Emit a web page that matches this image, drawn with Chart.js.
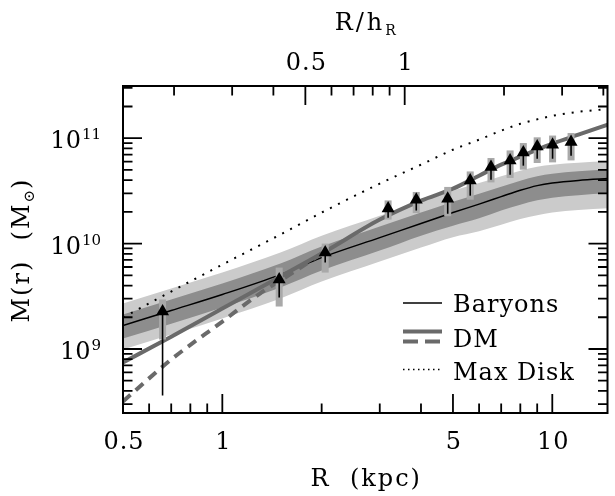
<!DOCTYPE html>
<html><head><meta charset="utf-8">
<script src="https://cdn.jsdelivr.net/npm/chart.js@4.4.1/dist/chart.umd.min.js"></script>
<style>html,body{margin:0;padding:0;background:#fff;}canvas{display:block;}</style>
</head><body>
<canvas id="c" width="615" height="496"></canvas>
<script>
// ---- axis ranges ----
const X_MIN = 0.5, X_MAX = 14.7;
const Y_MIN = 2.47e8, Y_MAX = 3.13e11;
const H_R = 3.57; // kpc, disk scale length (top axis R/h_R)

// ---- model curves (R in kpc, M in Msun) ----
const curveR     = [0.5, 0.7, 1, 1.5, 2, 3, 4, 5, 6, 7, 8, 9, 10, 12, 15];
const baryons    = [1.67e9, 2.32e9, 3.29e9, 5.08e9, 7.37e9, 1.14e10, 1.55e10, 1.97e10, 2.37e10, 2.79e10, 3.21e10, 3.55e10, 3.76e10, 3.98e10, 4.15e10];
const baryonsHi2 = [2.70e9, 3.75e9, 5.31e9, 8.22e9, 1.19e10, 1.84e10, 2.50e10, 3.18e10, 3.75e10, 4.36e10, 4.92e10, 5.37e10, 5.61e10, 5.86e10, 6.05e10];
const baryonsHi1 = [2.12e9, 2.95e9, 4.18e9, 6.46e9, 9.37e9, 1.45e10, 1.97e10, 2.50e10, 2.98e10, 3.47e10, 3.95e10, 4.36e10, 4.61e10, 4.87e10, 5.06e10];
const baryonsLo1 = [1.26e9, 1.74e9, 2.47e9, 3.83e9, 5.55e9, 8.59e9, 1.19e10, 1.48e10, 1.74e10, 2.06e10, 2.34e10, 2.58e10, 2.73e10, 2.88e10, 3.01e10];
const baryonsLo2 = [9.9e8, 1.37e9, 1.95e9, 3.01e9, 4.36e9, 6.75e9, 9.17e9, 1.15e10, 1.31e10, 1.51e10, 1.71e10, 1.86e10, 1.97e10, 2.08e10, 2.17e10];
const dmSolid    = [7.45e8, 1.31e9, 2.42e9, 4.87e9, 8.04e9, 1.69e10, 2.56e10, 3.32e10, 4.41e10, 5.61e10, 6.68e10, 7.78e10, 8.87e10, 1.08e11, 1.37e11];
const maxDisk    = [1.99e9, 3.51e9, 6.32e9, 1.22e10, 1.97e10, 3.71e10, 5.61e10, 7.78e10, 9.68e10, 1.18e11, 1.37e11, 1.51e11, 1.63e11, 1.78e11, 1.90e11];
const dmDashR    = [0.5, 0.7, 1, 1.3, 1.6, 2];
const dmDashed   = [3.18e8, 7.95e8, 1.82e9, 3.36e9, 5.08e9, 8.04e9];

// ---- data points (lower limits) ----
const pointR  = [0.659, 1.487, 2.05, 3.18, 3.87, 4.82, 5.64, 6.52, 7.45, 8.17, 9.0, 10.02, 11.4];
const pointM  = [2.27e9, 4.56e9, 8.22e9, 2.15e10, 2.61e10, 2.67e10, 3.96e10, 5.33e10, 6.16e10, 7.33e10, 8.36e10, 8.68e10, 9.2e10];
const arrowLo = [3.62e8, 3.08e9, 6.61e9, 1.76e10, 2.06e10, 1.92e10, 2.85e10, 4.04e10, 4.51e10, 5.49e10, 6.39e10, 6.39e10, 6.83e10];
const barHi   = [2.95e9, 5.92e9, 1.0e10, 2.57e10, 3.09e10, 3.45e10, 4.84e10, 6.49e10, 7.66e10, 9.0e10, 1.02e11, 1.06e11, 1.12e11];
const barLo   = [1.23e9, 2.53e9, 5.31e9, 1.69e10, 1.95e10, 1.82e10, 2.61e10, 3.81e10, 4.20e10, 5.03e10, 5.82e10, 5.90e10, 6.16e10];

// ---- ticks & labels ----
const xMajor = [1, 5, 10];
const xMinor = [0.6, 0.7, 0.8, 0.9, 2, 3, 4, 6, 7, 8, 9];
const xLabelVals = [0.5, 1, 5, 10];
const xLabelText = ['0.5', '1', '5', '10'];
const topMajor = [0.5, 1];
const topMinor = [0.2, 0.3, 0.4, 0.6, 0.7, 0.8, 0.9, 2, 3, 4];
const topLabelText = ['0.5', '1'];
const yMajor = [1e9, 1e10, 1e11];
const yExp = ['9', '10', '11'];
const yMinor = [3e8, 4e8, 5e8, 6e8, 7e8, 8e8, 9e8, 2e9, 3e9, 4e9, 5e9, 6e9, 7e9, 8e9, 9e9,
                2e10, 3e10, 4e10, 5e10, 6e10, 7e10, 8e10, 9e10, 2e11, 3e11];
const legendLabels = ['Baryons', 'DM', 'Max Disk'];

const LIGHT = '#cbcbcb', DARK = '#8d8d8d', DMC = '#6a6a6a', BARC = '#a9a9a9';
const FONT = '"DejaVu Serif", "Liberation Serif", serif';

const xy = (xs, ys) => xs.map((x, i) => ({x: x, y: ys[i]}));
const base = {type: 'line', pointRadius: 0, borderWidth: 0, fill: false, cubicInterpolationMode: 'monotone', clip: 0};

const PTS_INDEX = 8;

function text(ctx, s, x, y, size, align, spacing) {
  ctx.font = size + 'px ' + FONT;
  ctx.textAlign = align || 'left';
  ctx.textBaseline = 'alphabetic';
  ctx.letterSpacing = (spacing || 0) + 'px';
  ctx.fillText(s, x, y);
}
function width(ctx, s, size, spacing) {
  ctx.font = size + 'px ' + FONT;
  ctx.letterSpacing = (spacing || 0) + 'px';
  return ctx.measureText(s).width;
}

const axesPlugin = {
  id: 'axesPlugin',
  beforeDatasetDraw(chart, args) {
    if (args.index !== PTS_INDEX) return;
    const ctx = chart.ctx, x = chart.scales.x, y = chart.scales.y;
    ctx.save();
    ctx.fillStyle = BARC;
    pointR.forEach((r, i) => {
      const px = x.getPixelForValue(r);
      const y1 = y.getPixelForValue(barHi[i]), y2 = y.getPixelForValue(barLo[i]);
      ctx.fillRect(px - 3.5, y1, 7, y2 - y1);
    });
    ctx.strokeStyle = '#000'; ctx.lineWidth = 1.6;
    pointR.forEach((r, i) => {
      const px = x.getPixelForValue(r);
      ctx.beginPath();
      ctx.moveTo(px, y.getPixelForValue(pointM[i]));
      ctx.lineTo(px, y.getPixelForValue(arrowLo[i]));
      ctx.stroke();
    });
    ctx.restore();
  },
  afterDraw(chart) {
    const ctx = chart.ctx, x = chart.scales.x, y = chart.scales.y, xt = chart.scales.xTop;
    const a = chart.chartArea;
    const L = 19, S = 9.5;
    ctx.save();
    ctx.strokeStyle = '#000'; ctx.fillStyle = '#000';
    ctx.lineWidth = 1.8;
    ctx.beginPath();
    const tick = (x1, y1, x2, y2) => { ctx.moveTo(x1, y1); ctx.lineTo(x2, y2); };
    xMajor.forEach(v => { const p = x.getPixelForValue(v); tick(p, a.bottom, p, a.bottom - L); });
    xMinor.forEach(v => { const p = x.getPixelForValue(v); tick(p, a.bottom, p, a.bottom - S); });
    topMajor.forEach(v => { const p = xt.getPixelForValue(v); tick(p, a.top, p, a.top + L); });
    topMinor.forEach(v => { const p = xt.getPixelForValue(v); tick(p, a.top, p, a.top + S); });
    yMajor.forEach(v => { const p = y.getPixelForValue(v); tick(a.left, p, a.left + L, p); tick(a.right, p, a.right - L, p); });
    yMinor.forEach(v => { const p = y.getPixelForValue(v); tick(a.left, p, a.left + S, p); tick(a.right, p, a.right - S, p); });
    ctx.stroke();
    ctx.lineWidth = 2;
    ctx.strokeRect(a.left, a.top, a.right - a.left, a.bottom - a.top);

    // bottom tick labels
    xLabelVals.forEach((v, i) => text(ctx, xLabelText[i], x.getPixelForValue(v) + 1, 449, 24, 'center', 1));
    // top tick labels
    topMajor.forEach((v, i) => text(ctx, topLabelText[i], xt.getPixelForValue(v) + 1, 70, 24, 'center', 1));
    // left tick labels 10^n
    yMajor.forEach((v, i) => {
      const p = y.getPixelForValue(v);
      const ew = width(ctx, yExp[i], 15, 0);
      text(ctx, yExp[i], 101, p + 1, 15, 'right', 0);
      text(ctx, '10', 101 - ew - 1, p + 10, 24, 'right', 0);
    });
    // x title
    text(ctx, 'R  (kpc)', (a.left + a.right) / 2 + 1, 486, 24, 'center', 2);
    // top title R/h_R
    const w1 = width(ctx, 'R/h', 24, 3), w2 = width(ctx, 'R', 14, 0);
    const x0 = (a.left + a.right) / 2 - (w1 + w2) / 2;
    text(ctx, 'R/h', x0, 30, 24, 'left', 3);
    text(ctx, 'R', x0 + w1, 35, 14, 'left', 0);
    // y title rotated
    ctx.save();
    ctx.translate(29, 250);
    ctx.rotate(-Math.PI / 2);
    const p1 = 'M(r)  (M', p2 = '\u2299', p3 = ')';
    const wa = width(ctx, p1, 24, 2), wb = width(ctx, p2, 15, 1), wc = width(ctx, p3, 24, 2);
    let sx = -(wa + wb + wc) / 2;
    text(ctx, p1, sx, 0, 24, 'left', 2); sx += wa;
    text(ctx, p2, sx, 5, 15, 'left', 1); sx += wb;
    text(ctx, p3, sx, 0, 24, 'left', 2);
    ctx.restore();

    // legend
    const lx1 = 403, lx2 = 442, tx = 453;
    ctx.lineCap = 'butt';
    ctx.strokeStyle = '#000'; ctx.lineWidth = 1.5; ctx.setLineDash([]);
    ctx.beginPath(); ctx.moveTo(lx1, 303); ctx.lineTo(lx2, 303); ctx.stroke();
    ctx.strokeStyle = DMC; ctx.lineWidth = 4;
    ctx.beginPath(); ctx.moveTo(lx1, 331.5); ctx.lineTo(lx2, 331.5); ctx.stroke();
    ctx.setLineDash([15, 7]);
    ctx.beginPath(); ctx.moveTo(lx1, 341.5); ctx.lineTo(lx2, 341.5); ctx.stroke();
    ctx.strokeStyle = '#000'; ctx.lineWidth = 1.5; ctx.setLineDash([1.5, 3.5]);
    ctx.beginPath(); ctx.moveTo(lx1, 369.5); ctx.lineTo(lx2, 369.5); ctx.stroke();
    ctx.setLineDash([]);
    ctx.fillStyle = '#000';
    text(ctx, legendLabels[0], tx, 311.5, 24, 'left', 1);
    text(ctx, legendLabels[1], tx, 347, 24, 'left', 1);
    text(ctx, legendLabels[2], tx, 380, 24, 'left', 1);
    ctx.restore();
  }
};

new Chart(document.getElementById('c'), {
  type: 'line',
  data: {
    datasets: [
      Object.assign({}, base, {data: xy(curveR, baryonsHi2), fill: '+1', backgroundColor: LIGHT, order: 10}),
      Object.assign({}, base, {data: xy(curveR, baryonsLo2), order: 10}),
      Object.assign({}, base, {data: xy(curveR, baryonsHi1), fill: '+1', backgroundColor: DARK, order: 9}),
      Object.assign({}, base, {data: xy(curveR, baryonsLo1), order: 9}),
      Object.assign({}, base, {data: xy(curveR, baryons), borderColor: '#000', borderWidth: 1.5, order: 5}),
      Object.assign({}, base, {data: xy(curveR, dmSolid), borderColor: DMC, borderWidth: 4, order: 4}),
      Object.assign({}, base, {data: xy(dmDashR, dmDashed), borderColor: DMC, borderWidth: 4, borderDash: [10, 7], order: 4}),
      Object.assign({}, base, {data: xy(curveR, maxDisk), borderColor: '#000', borderWidth: 2, borderDash: [2, 7], order: 3}),
      {type: 'line', data: xy(pointR, pointM), showLine: false, pointStyle: 'triangle', pointRadius: 7.5,
       pointBackgroundColor: '#000', pointBorderColor: '#000', pointBorderWidth: 0, order: 0, clip: false}
    ]
  },
  options: {
    responsive: false,
    animation: false,
    events: [],
    layout: {padding: {left: 123, right: 3, top: 86, bottom: 83}},
    plugins: {legend: {display: false}, tooltip: {enabled: false}},
    scales: {
      x: {type: 'logarithmic', min: X_MIN, max: X_MAX, display: false},
      y: {type: 'logarithmic', min: Y_MIN, max: Y_MAX, display: false},
      xTop: {type: 'logarithmic', axis: 'x', position: 'top', min: X_MIN / H_R, max: X_MAX / H_R, display: false}
    }
  },
  plugins: [axesPlugin]
});
</script>
</body></html>
